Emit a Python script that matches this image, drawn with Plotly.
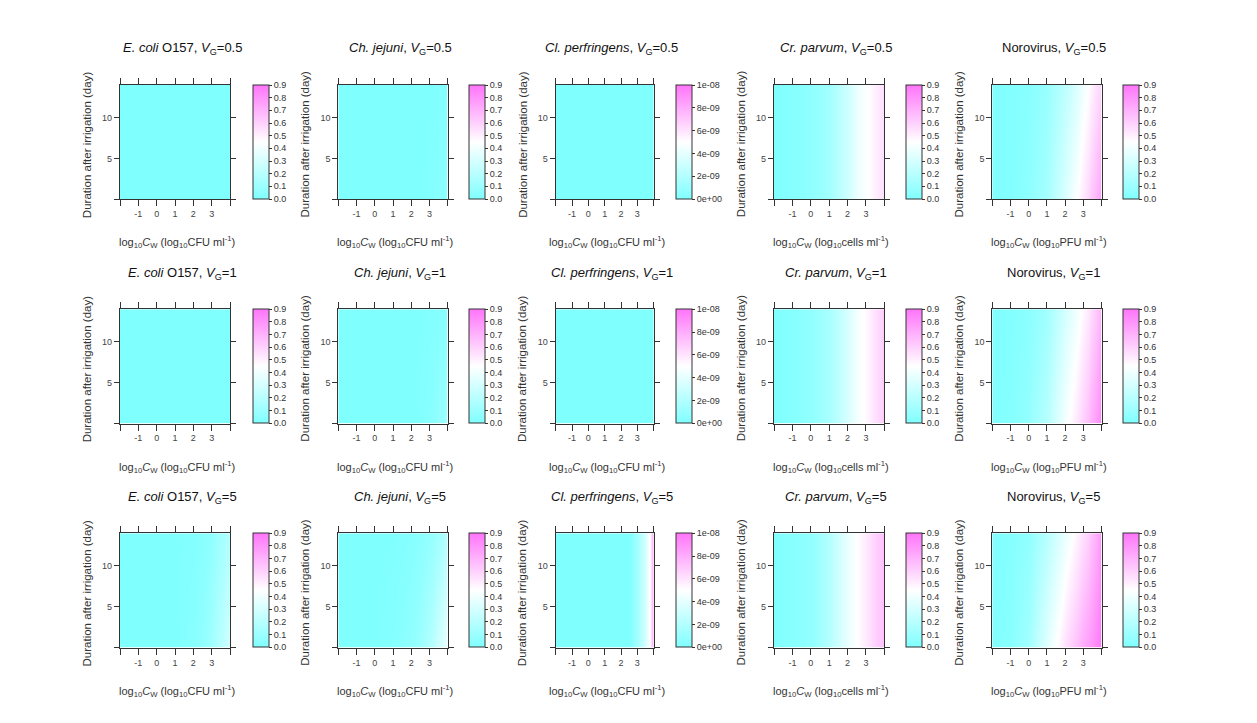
import plotly.graph_objects as go

# ---------------- data ----------------
XS = [-2, -1, 0, 1, 2, 2.5, 3, 3.25, 3.5, 3.75, 4]   # log10 Cw
YS = [0, 14]                                         # days after irrigation

species = ["E. coli O157", "Ch. jejuni", "Cl. perfringens", "Cr. parvum", "Norovirus"]
vg_levels = ["0.5", "1", "5"]
units = ["CFU", "CFU", "CFU", "cells", "PFU"]

ZERO = [0] * 11

# each panel: [values at day 0, values at day 14]
ecoli_05 = [ZERO, ZERO]
chjej_05 = [[0, 0, 0, 0, 0, 0, 0.01, 0.02, 0.03, 0.04, 0.06],
            [0, 0, 0, 0, 0, 0, 0, 0, 0.01, 0.01, 0.02]]
clper_05 = [ZERO, ZERO]
crpar_05 = [[0, 0.02, 0.05, 0.12, 0.28, 0.38, 0.44, 0.47, 0.50, 0.53, 0.56],
            [0, 0.02, 0.05, 0.12, 0.28, 0.38, 0.44, 0.47, 0.50, 0.53, 0.56]]
noro_05 = [[0, 0.01, 0.05, 0.14, 0.32, 0.42, 0.52, 0.58, 0.64, 0.70, 0.76],
           [0, 0.01, 0.03, 0.09, 0.22, 0.30, 0.40, 0.45, 0.50, 0.55, 0.60]]

ecoli_1 = [ZERO, ZERO]
chjej_1 = [[0, 0, 0, 0, 0, 0.01, 0.03, 0.05, 0.07, 0.09, 0.12],
           [0, 0, 0, 0, 0, 0, 0.01, 0.01, 0.02, 0.02, 0.03]]
clper_1 = [ZERO, ZERO]
crpar_1 = [[0, 0.02, 0.06, 0.14, 0.31, 0.41, 0.47, 0.51, 0.55, 0.59, 0.63],
           [0, 0.02, 0.06, 0.14, 0.31, 0.41, 0.47, 0.51, 0.55, 0.59, 0.63]]
noro_1 = [[0, 0.02, 0.07, 0.20, 0.42, 0.50, 0.60, 0.66, 0.72, 0.78, 0.85],
          [0, 0.01, 0.04, 0.12, 0.30, 0.38, 0.47, 0.52, 0.58, 0.64, 0.70]]

ecoli_5 = [[0, 0, 0, 0, 0.03, 0.06, 0.12, 0.16, 0.20, 0.25, 0.30],
           [0, 0, 0, 0, 0.01, 0.03, 0.06, 0.09, 0.12, 0.15, 0.18]]
chjej_5 = [[0, 0, 0, 0.02, 0.06, 0.10, 0.17, 0.22, 0.28, 0.33, 0.38],
           [0, 0, 0, 0, 0.02, 0.04, 0.07, 0.09, 0.12, 0.15, 0.18]]
clper_5 = [[0, 0, 0, 0, 0, 0, 1.5e-9, 2.5e-9, 3.5e-9, 5e-9, 9e-9],
           [0, 0, 0, 0, 0, 0, 1.5e-9, 2.5e-9, 3.5e-9, 5e-9, 9e-9]]
crpar_5 = [[0, 0.03, 0.06, 0.18, 0.38, 0.45, 0.52, 0.56, 0.60, 0.63, 0.66],
           [0, 0.03, 0.06, 0.18, 0.38, 0.45, 0.52, 0.56, 0.60, 0.63, 0.66]]
noro_5 = [[0, 0.03, 0.12, 0.35, 0.55, 0.63, 0.72, 0.76, 0.80, 0.85, 0.90],
          [0, 0.02, 0.06, 0.20, 0.38, 0.46, 0.55, 0.60, 0.66, 0.72, 0.80]]

panels = [
    [ecoli_05, chjej_05, clper_05, crpar_05, noro_05],
    [ecoli_1, chjej_1, clper_1, crpar_1, noro_1],
    [ecoli_5, chjej_5, clper_5, crpar_5, noro_5],
]

XTICKS = [-2, -1, 0, 1, 2, 3, 4]
XTICKTEXT = ["", "-1", "0", "1", "2", "3", ""]
YTICKS = [0, 5, 10]
YTICKTEXT = ["", "5", "10"]
CB_TICKS = [0, 0.1, 0.2, 0.3, 0.4, 0.5, 0.6, 0.7, 0.8, 0.9]
CB_TICKS_CP = [0, 2e-9, 4e-9, 6e-9, 8e-9, 1e-8]
CB_TEXT_CP = ["0e+00", "2e-09", "4e-09", "6e-09", "8e-09", "1e-08"]

# ---------------- layout geometry (pixels) ----------------
W, H = 1257, 723
col_L = [120, 338.3, 555.7, 774, 992.3]
col_R = [230, 447.7, 653.7, 884.3, 1101.5]
cb_L = [252.7, 469.3, 675.7, 905.7, 1122.7]
row_T = [85, 309.2, 533.3]
PH = 114.3

FONT = "Liberation Sans, Arial, sans-serif"
INK = "#333333"
CSCALE = [[0, "#80FFFF"], [0.5, "#FFFFFF"], [1, "#FF74FA"]]

title_html = {
    "E. coli O157": "<i>E. coli</i> O157",
    "Ch. jejuni": "<i>Ch. jejuni</i>",
    "Cl. perfringens": "<i>Cl. perfringens</i>",
    "Cr. parvum": "<i>Cr. parvum</i>",
    "Norovirus": "Norovirus",
}

fig = go.Figure()
annotations = []
layout = {}

for r in range(3):
    for c in range(5):
        i = r * 5 + c + 1
        sfx = "" if i == 1 else str(i)
        L, R, T = col_L[c], col_R[c], row_T[r]
        B = T + PH
        is_cp = species[c] == "Cl. perfringens"
        cb = dict(
            x=cb_L[c] / W, xanchor="left", xpad=0,
            y=1 - T / H, yanchor="top", ypad=0,
            len=PH, lenmode="pixels", thickness=16, thicknessmode="pixels",
            outlinewidth=1, outlinecolor=INK,
            ticks="outside", ticklen=3, tickcolor=INK, tickwidth=1,
            tickfont=dict(family=FONT, size=9, color=INK),
            tickvals=CB_TICKS_CP if is_cp else CB_TICKS,
            ticktext=CB_TEXT_CP if is_cp else [f"{v:.1f}" for v in CB_TICKS],
        )
        fig.add_trace(go.Heatmap(
            x=XS, y=YS, z=panels[r][c],
            zmin=0, zmax=1e-8 if is_cp else 0.9,
            zsmooth="best", colorscale=CSCALE, colorbar=cb,
            xaxis="x" + sfx, yaxis="y" + sfx, hoverinfo="skip",
        ))
        layout["xaxis" + sfx] = dict(
            domain=[L / W, R / W], anchor="y" + sfx, range=[-2, 4],
            tickvals=XTICKS, ticktext=XTICKTEXT, ticks="outside", ticklen=6,
            tickcolor=INK, showline=True, linecolor=INK, linewidth=1.2, mirror="ticks",
            showgrid=False, zeroline=False, fixedrange=True,
            tickfont=dict(family=FONT, size=9, color="#444444"),
        )
        layout["yaxis" + sfx] = dict(
            domain=[1 - B / H, 1 - T / H], anchor="x" + sfx, range=[0, 14],
            tickvals=YTICKS, ticktext=YTICKTEXT, ticks="outside", ticklen=5,
            tickcolor=INK, showline=True, linecolor=INK, linewidth=1.2, mirror="ticks",
            showgrid=False, zeroline=False, fixedrange=True,
            tickfont=dict(family=FONT, size=9, color="#444444"),
        )
        # panel title
        annotations.append(dict(
            text=f"{title_html[species[c]]}, <i>V</i><sub>G</sub>=" + vg_levels[r],
            x=((L + R) / 2 + 7) / W, y=1 - (T - 36) / H, xref="paper", yref="paper",
            xanchor="center", yanchor="middle", showarrow=False,
            font=dict(family=FONT, size=13, color="#111111"),
        ))
        # x-axis label
        annotations.append(dict(
            text=f"log<sub>10</sub><i>C</i><sub>W</sub> (log<sub>10</sub>{units[c]} ml<sup>-1</sup>)",
            x=((L + R) / 2 + 2) / W, y=1 - (B + 43) / H, xref="paper", yref="paper",
            xanchor="center", yanchor="middle", showarrow=False,
            font=dict(family=FONT, size=11, color="#333333"),
        ))
        # y-axis label
        annotations.append(dict(
            text="Duration after irrigation (day)", textangle=-90,
            x=(L - 33) / W, y=1 - (T + PH / 2 + 2) / H, xref="paper", yref="paper",
            xanchor="center", yanchor="middle", showarrow=False,
            font=dict(family=FONT, size=11.5, color="#333333"),
        ))

fig.update_layout(
    width=W, height=H, margin=dict(l=0, r=0, t=0, b=0),
    paper_bgcolor="white", plot_bgcolor="white",
    showlegend=False, annotations=annotations, **layout,
)

fig.write_html(
    "out.html",
    config={"displayModeBar": False},
    post_script="document.body.style.margin='0';document.body.style.overflow='hidden';",
)
